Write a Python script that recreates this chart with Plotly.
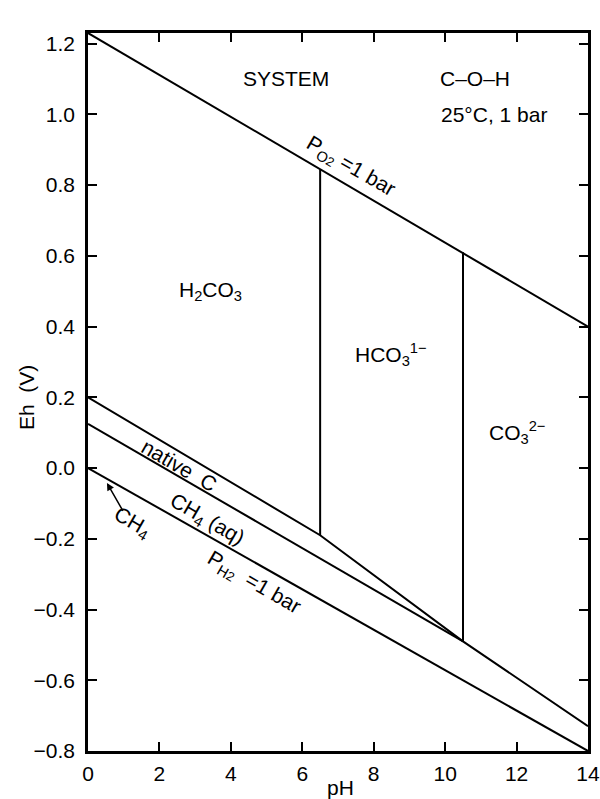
import plotly.graph_objects as go

# Boundaries (pH, Eh)
ph_o2 = [0, 14]
eh_o2 = [1.23, 0.40]
ph_h2 = [0, 14]
eh_h2 = [0.0, -0.80]
ph_nativeC = [0, 6.5, 10.5, 14]
eh_nativeC = [0.20, -0.19, -0.49, -0.73]
ph_ch4aq = [0, 10.5]
eh_ch4aq = [0.125, -0.49]
ph_v1 = [6.5, 6.5]
eh_v1 = [0.845, -0.19]
ph_v2 = [10.5, 10.5]
eh_v2 = [0.61, -0.49]

x_ticks = [0, 2, 4, 6, 8, 10, 12, 14]
y_ticks = [-0.8, -0.6, -0.4, -0.2, 0.0, 0.2, 0.4, 0.6, 0.8, 1.0, 1.2]

FONT = "Liberation Sans, Arial, sans-serif"
SMALL = "<span style='font-size:13px'>{}</span>"

fig = go.Figure()
for xs, ys in [(ph_o2, eh_o2), (ph_h2, eh_h2), (ph_nativeC, eh_nativeC),
               (ph_ch4aq, eh_ch4aq), (ph_v1, eh_v1), (ph_v2, eh_v2)]:
    fig.add_trace(go.Scatter(x=xs, y=ys, mode="lines",
                             line=dict(color="black", width=2),
                             showlegend=False, hoverinfo="skip"))

labels = [
    (5.53, 1.10, "SYSTEM", 0),
    (10.83, 1.10, "C–O–H", 0),
    (11.36, 1.00, "25°C, 1 bar", 0),
    (7.36, 0.85, "P<sub>O" + SMALL.format("2") + "</sub> =1 bar", 30),
    (3.44, 0.50, "H<sub>2</sub>CO<sub>3</sub>", 0),
    (8.47, 0.32, "HCO<sub>3</sub><sup>1−</sup>", 0),
    (12.0, 0.10, "CO<sub>3</sub><sup>2−</sup>", 0),
    (2.56, 0.008, "native  C", 30),
    (3.33, -0.147, "CH<sub>4</sub> (aq)", 30),
    (4.64, -0.325, "P<sub>H" + SMALL.format("2") + "</sub>  =1 bar", 30),
]
for x, y, t, a in labels:
    fig.add_annotation(x=x, y=y, text=t, showarrow=False, textangle=a,
                       font=dict(family=FONT, size=21, color="black"))

fig.add_annotation(x=0.53, y=-0.042, ax=1.0, ay=-0.125, axref="x", ayref="y",
                   text="", showarrow=True, arrowhead=2, arrowsize=1,
                   arrowwidth=1.5, arrowcolor="black")
fig.add_annotation(x=1.25, y=-0.155, text="CH<sub>4</sub>", showarrow=False,
                   textangle=30, font=dict(family=FONT, size=21, color="black"))

# Axis titles placed as annotations to match the reference positions
fig.add_annotation(x=-0.124, y=0.4916, xref="paper", yref="paper", text="Eh  (V)",
                   showarrow=False, textangle=-90, xanchor="center", yanchor="middle",
                   font=dict(family=FONT, size=21, color="black"))
fig.add_annotation(x=0.504, y=-0.0515, xref="paper", yref="paper", text="pH",
                   showarrow=False, xanchor="center", yanchor="middle",
                   font=dict(family=FONT, size=21, color="black"))

axis_common = dict(showgrid=False, zeroline=False, showline=True,
                   linecolor="black", linewidth=2.5, mirror="ticks",
                   ticks="inside", ticklen=9, tickwidth=2, tickcolor="black",
                   automargin=False, ticklabeloverflow="allow",
                   tickfont=dict(family=FONT, size=21, color="black"))

fig.update_xaxes(range=[0, 14], tickvals=x_ticks, ticklabelstandoff=2,
                 **axis_common)
fig.update_yaxes(range=[-0.8, 1.23], tickvals=y_ticks, tickformat=".1f",
                 ticklabelstandoff=6,
                 **axis_common)

fig.update_layout(width=600, height=799, plot_bgcolor="white", paper_bgcolor="white",
                  margin=dict(l=88, r=12, t=33, b=48), showlegend=False)

fig.write_html("out.html")
